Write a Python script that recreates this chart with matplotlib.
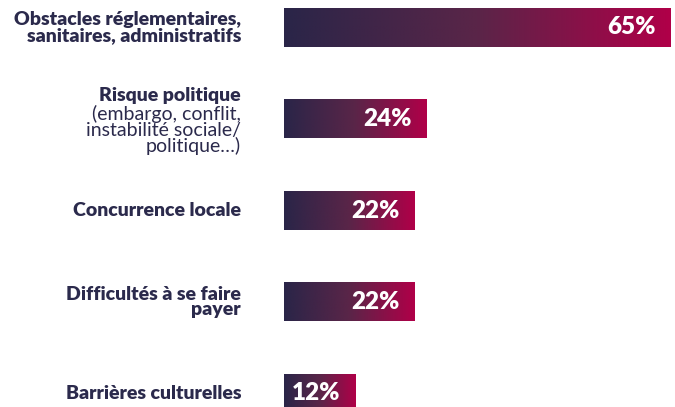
import matplotlib
matplotlib.use("Agg")
import matplotlib.pyplot as plt
import numpy as np
from matplotlib.colors import LinearSegmentedColormap
from matplotlib.transforms import blended_transform_factory

labels_bold = [
    "Obstacles réglementaires,\nsanitaires, administratifs",
    "Risque politique",
    "Concurrence locale",
    "Difficultés à se faire\npayer",
    "Barrières culturelles",
]
labels_sub = ["", "(embargo, conflit,\ninstabilité sociale/\npolitique…)", "", "", ""]
values = [65, 24, 22, 22, 12]

navy = "#2a2548"
crimson = "#b00048"
text_col = "#2b2a4c"
cmap = LinearSegmentedColormap.from_list("grad", [navy, "#5a2548", crimson])

plt.rcParams['font.family'] = ['Lato', 'DejaVu Sans']

W, H = 675, 407
fig = plt.figure(figsize=(W / 100, H / 100), dpi=100)
x0 = 284
ax = fig.add_axes([x0 / W, 0, (W - x0) / W, 1])
px_per_unit = 5.95
ax.set_xlim(0, (W - x0) / px_per_unit)
step = 91.5
ax.set_ylim(4 + (H - 393.5) / step, -27.5 / step)
ax.axis("off")

bar_h = 39 / step
grad = np.linspace(0, 1, 256).reshape(1, -1)
trans = blended_transform_factory(fig.transFigure, ax.transData)
label_x = 241 / W

for i, (v, lb, ls) in enumerate(zip(values, labels_bold, labels_sub)):
    ax.imshow(grad, cmap=cmap, aspect="auto",
              extent=[0, v, i + bar_h / 2, i - bar_h / 2], interpolation="bilinear")
    ax.annotate(f"{v}%", xy=(v, i), xytext=(-15, 0), textcoords="offset pixels",
                ha="right", va="center", color="white", fontsize=17.5, fontweight="heavy")
    if ls:
        ax.annotate(lb, xy=(label_x, i), xycoords=trans, xytext=(0, 24),
                    textcoords="offset pixels", ha="right", va="center",
                    color=text_col, fontsize=14, fontweight="heavy")
        ax.annotate(ls, xy=(label_x, i), xycoords=trans, xytext=(0, -11),
                    textcoords="offset pixels", ha="right", va="center",
                    color=text_col, fontsize=14, linespacing=0.9)
    else:
        ax.text(label_x, i, lb, transform=trans, ha="right", va="center",
                color=text_col, fontsize=14, fontweight="heavy", linespacing=0.9)

fig.savefig("out.png", dpi=100)
